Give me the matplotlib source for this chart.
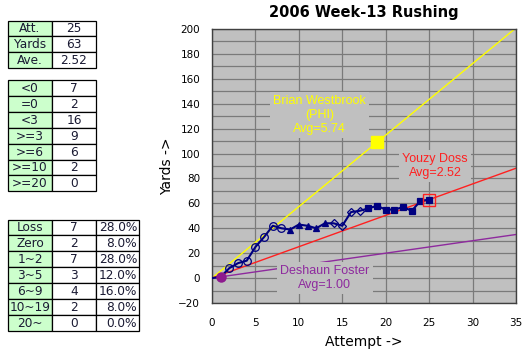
import matplotlib
matplotlib.use("Agg")
import matplotlib.pyplot as plt
from matplotlib.patches import Rectangle
import numpy as np

# ---------------- data ----------------
attempts = list(range(0, 26))
cum_yards = [0, 1, 8, 12, 14, 25, 33, 42, 40, 39, 43, 42, 40, 44, 44, 42,
             53, 54, 56, 58, 55, 55, 57, 54, 62, 63]
# quarter of each attempt (1..25)
quarters = [1, 1, 1, 1, 1, 1, 1, 1, 2, 2, 2, 2, 2, 3, 3, 3, 3,
            4, 4, 4, 4, 4, 4, 4, 4]

ref_names = ["Brian Westbrook\n(PHI)\nAvg=5.74", "Youzy Doss\nAvg=2.52", "Deshaun Foster\nAvg=1.00"]
ref_avgs = [5.74, 2.52, 1.00]
ref_colors = ["#ffff00", "#ff2020", "#8e2a9e"]
ref_label_pos = [(12.4, 131), (25.7, 90), (13.0, 0)]
westbrook_pt = (19, 109)
doss_pt = (25, 63)
foster_pt = (1, 1)

t1_labels = ["Att.", "Yards", "Ave."]
t1_values = ["25", "63", "2.52"]
t2_labels = ["<0", "=0", "<3", ">=3", ">=6", ">=10", ">=20"]
t2_values = [7, 2, 16, 9, 6, 2, 0]
t3_labels = ["Loss", "Zero", "1~2", "3~5", "6~9", "10~19", "20~"]
t3_values = [7, 2, 7, 3, 4, 2, 0]
total_att = 25

# ---------------- figure ----------------
W, H = 530, 356
fig = plt.figure(figsize=(W / 100, H / 100), dpi=100)
fig.patch.set_facecolor("white")

# overlay for tables (pixel coordinates)
ov = fig.add_axes([0, 0, 1, 1], zorder=0)
ov.set_xlim(0, W)
ov.set_ylim(H, 0)
ov.axis("off")

GREEN = "#ccffcc"
TXT = "#1a1a33"
RH = 15.9
FS = 8.7


def draw_table(top, cols, colwidths, x0=8, aligns=None):
    nrows = len(cols[0])
    for r in range(nrows):
        x = x0
        y = top + r * RH
        for c, col in enumerate(cols):
            w = colwidths[c]
            fc = GREEN if c == 0 else "white"
            ov.add_patch(Rectangle((x, y), w, RH, facecolor=fc, edgecolor="black", lw=0.9))
            al = aligns[c] if aligns else "center"
            if al == "right":
                ov.text(x + w - 2, y + RH / 2 + 0.5, col[r], ha="right", va="center",
                        fontsize=FS, color=TXT, family="DejaVu Sans")
            else:
                ov.text(x + w / 2, y + RH / 2 + 0.5, col[r], ha="center", va="center",
                        fontsize=FS, color=TXT, family="DejaVu Sans")
            x += w


draw_table(20.5, [t1_labels, t1_values], [44, 44])
draw_table(80.0, [t2_labels, [str(v) for v in t2_values]], [44, 44])
draw_table(219.5, [t3_labels, [str(v) for v in t3_values],
                   ["%.1f%%" % (100.0 * v / total_att) for v in t3_values]],
           [44, 44, 43], aligns=["center", "center", "right"])

# ---------------- chart ----------------
L, R, T, B = 212, 516, 29, 303
ax = fig.add_axes([L / W, 1 - B / H, (R - L) / W, (B - T) / H], zorder=1)
ax.set_facecolor("#c0c0c0")
ax.set_xlim(0, 35)
ax.set_ylim(-20, 200)
ax.set_xticks(np.arange(0, 36, 5))
ax.set_yticks(np.arange(-20, 201, 20))
ax.set_yticks(np.arange(-10, 200, 20), minor=True)
ax.grid(True, which="both", color="#7a7a7a", lw=0.9)
ax.set_axisbelow(True)
ax.tick_params(which="both", length=0)
ax.tick_params(axis="y", pad=8.5, labelsize=7.5)
ax.tick_params(axis="x", pad=11, labelsize=7.5)
for s in ax.spines.values():
    s.set_color("#404040")
    s.set_linewidth(1.0)

xs = np.array([0, 35])
for avg, col in zip(ref_avgs, ref_colors):
    ax.plot(xs, avg * xs, color=col, lw=1.0, zorder=2)

for name, col, (lx, ly) in zip(ref_names, ref_colors, ref_label_pos):
    ax.text(lx, ly, name, ha="center", va="center", color=col, fontsize=9,
            family="Liberation Sans", linespacing=1.25, zorder=3,
            bbox=dict(boxstyle="square,pad=0.25", facecolor="#c0c0c0", edgecolor="none"))

NAVY = "#000080"
ax.plot(attempts, cum_yards, color=NAVY, lw=1.5, zorder=4)

att = np.array(attempts[1:])
yds = np.array(cum_yards[1:])
q = np.array(quarters)
styles = {1: dict(marker="o", mfc="none", ms=5.5),
          2: dict(marker="^", mfc=NAVY, ms=5),
          3: dict(marker="D", mfc="none", ms=4.5),
          4: dict(marker="s", mfc=NAVY, ms=5)}
for k, st in styles.items():
    m = q == k
    ax.plot(att[m], yds[m], ls="none", mec=NAVY, mew=0.9, zorder=5, **st)

ax.plot([westbrook_pt[0]], [westbrook_pt[1]], marker="s", ms=8, color="#ffff00", ls="none", zorder=6)
ax.plot([doss_pt[0]], [doss_pt[1]], marker="s", ms=8.5, mfc="none", mec="#ff2020", mew=1.0,
        ls="none", zorder=6)
ax.plot([foster_pt[0]], [foster_pt[1]], marker="o", ms=6.5, color="#8e1a8e", ls="none", zorder=6)

ax.set_xlabel("Attempt ->", fontsize=10, labelpad=4)
ax.set_ylabel("Yards ->", fontsize=10)
ax.yaxis.set_label_coords((167 - L) / (R - L), 0.5)
ax.xaxis.set_label_coords(0.5, -(342 - B) / (B - T))
ax.xaxis.label.set_va("center")
ax.yaxis.label.set_va("center")

fig.text((L + R) / 2 / W, 1 - 12 / H, "2006 Week-13 Rushing", ha="center", va="center",
         fontsize=10.5, fontweight="bold")

fig.savefig("out.png", dpi=100)
